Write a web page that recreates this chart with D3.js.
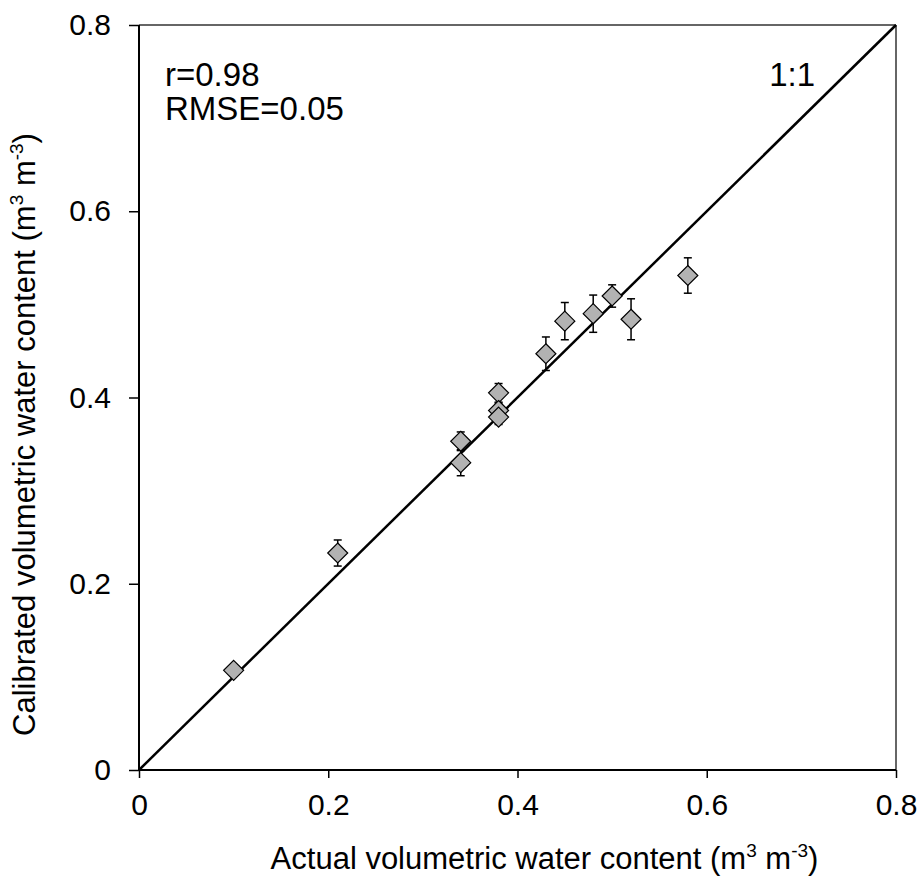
<!DOCTYPE html>
<html>
<head>
<meta charset="utf-8">
<script src="https://cdn.jsdelivr.net/npm/d3@7/dist/d3.min.js"></script>
<style>
  html, body { margin: 0; padding: 0; background: #fff; }
  svg { display: block; font-family: "Liberation Sans", Arial, sans-serif; }
</style>
</head>
<body>
<svg id="chart" width="921" height="893"></svg>
<script>
// ---- data ----
const actual     = [0.10, 0.21, 0.34, 0.34, 0.38, 0.38, 0.38, 0.43, 0.45, 0.48, 0.50, 0.52, 0.58];
const calibrated = [0.107, 0.233, 0.353, 0.330, 0.405, 0.386, 0.379, 0.447, 0.482, 0.490, 0.509, 0.484, 0.531];
const errors     = [0.006, 0.014, 0.010, 0.014, 0.010, 0.008, 0.008, 0.018, 0.020, 0.020, 0.012, 0.022, 0.019];
const xTicks = [0, 0.2, 0.4, 0.6, 0.8];
const yTicks = [0, 0.2, 0.4, 0.6, 0.8];
const stats = ["r=0.98", "RMSE=0.05"];
const oneToOne = [[0, 0], [0.8, 0.8]];

const svg = d3.select("#chart");
const pL = 139, pR = 896, pT = 25, pB = 770;
const x = d3.scaleLinear().domain([0, 0.8]).range([pL, pR]);
const y = d3.scaleLinear().domain([0, 0.8]).range([pB, pT]);
const fsTick = 30, fsTitle = 31, fsNote = 33;

// frame (top / right)
svg.append("line").attr("x1", pL).attr("x2", pR).attr("y1", pT).attr("y2", pT)
  .attr("stroke", "#333").attr("stroke-width", 1.5);
svg.append("line").attr("x1", pR).attr("x2", pR).attr("y1", pT).attr("y2", pB)
  .attr("stroke", "#333").attr("stroke-width", 1.5);

// axes
const xAxis = svg.append("g").attr("transform", `translate(0,${pB})`)
  .call(d3.axisBottom(x).tickValues(xTicks).tickSize(8).tickPadding(16).tickFormat(d => d === 0 ? "0" : d3.format(".1f")(d)));
const yAxis = svg.append("g").attr("transform", `translate(${pL},0)`)
  .call(d3.axisLeft(y).tickValues(yTicks).tickSize(10).tickPadding(18).tickFormat(d => d === 0 ? "0" : d3.format(".1f")(d)));
[xAxis, yAxis].forEach(g => {
  g.select(".domain").attr("stroke", "#000").attr("stroke-width", 2);
  g.selectAll(".tick line").attr("stroke", "#000").attr("stroke-width", 1.5);
  g.selectAll(".tick text").attr("font-size", fsTick).attr("fill", "#000")
    .attr("font-family", "'Liberation Sans', Arial, sans-serif");
});
xAxis.select(".domain").attr("d", `M${pL},0H${pR}`);
yAxis.select(".domain").attr("d", `M0,${pB}V${pT}`);

// 1:1 line
svg.append("path")
  .attr("d", d3.line().x(d => x(d[0])).y(d => y(d[1]))(oneToOne))
  .attr("stroke", "#000").attr("stroke-width", 2.5).attr("fill", "none");

// error bars
const pts = actual.map((a, i) => ({ a, c: calibrated[i], e: errors[i] }));
const eb = svg.append("g").attr("stroke", "#000").attr("stroke-width", 1.5);
pts.forEach(p => {
  eb.append("line").attr("x1", x(p.a)).attr("x2", x(p.a)).attr("y1", y(p.c - p.e)).attr("y2", y(p.c + p.e));
  [p.c - p.e, p.c + p.e].forEach(v => {
    eb.append("line").attr("x1", x(p.a) - 4).attr("x2", x(p.a) + 4).attr("y1", y(v)).attr("y2", y(v));
  });
});

// diamonds
const r = 10;
svg.append("g").selectAll("path").data(pts).join("path")
  .attr("d", p => { const cx = x(p.a), cy = y(p.c); return `M${cx},${cy - r}L${cx + r},${cy}L${cx},${cy + r}L${cx - r},${cy}Z`; })
  .attr("fill", "#b2b2b2").attr("stroke", "#000").attr("stroke-width", 1.2);

// annotations
stats.forEach((s, i) => {
  svg.append("text").attr("x", 165).attr("y", 86 + i * 34).attr("font-size", fsNote).text(s);
});
svg.append("text").attr("x", 815).attr("y", 86).attr("text-anchor", "end").attr("font-size", fsNote).text("1:1");

// axis titles
const sup = 19, lift = 12;
const xt = svg.append("text").attr("x", (pL + pR) / 2 + 27).attr("y", 869)
  .attr("text-anchor", "middle").attr("font-size", fsTitle);
xt.append("tspan").text("Actual volumetric water content (m");
xt.append("tspan").attr("font-size", sup).attr("dy", -lift).text("3");
xt.append("tspan").attr("font-size", fsTitle).attr("dy", lift).text(" m");
xt.append("tspan").attr("font-size", sup).attr("dy", -lift).text("-3");
xt.append("tspan").attr("font-size", fsTitle).attr("dy", lift).text(")");

const yt = svg.append("text").attr("transform", `translate(35,${(pT + pB) / 2 + 37}) rotate(-90)`)
  .attr("text-anchor", "middle").attr("font-size", fsTitle);
yt.append("tspan").text("Calibrated volumetric water content (m");
yt.append("tspan").attr("font-size", sup).attr("dy", -lift).text("3");
yt.append("tspan").attr("font-size", fsTitle).attr("dy", lift).text(" m");
yt.append("tspan").attr("font-size", sup).attr("dy", -lift).text("-3");
yt.append("tspan").attr("font-size", fsTitle).attr("dy", lift).text(")");
</script>
</body>
</html>
